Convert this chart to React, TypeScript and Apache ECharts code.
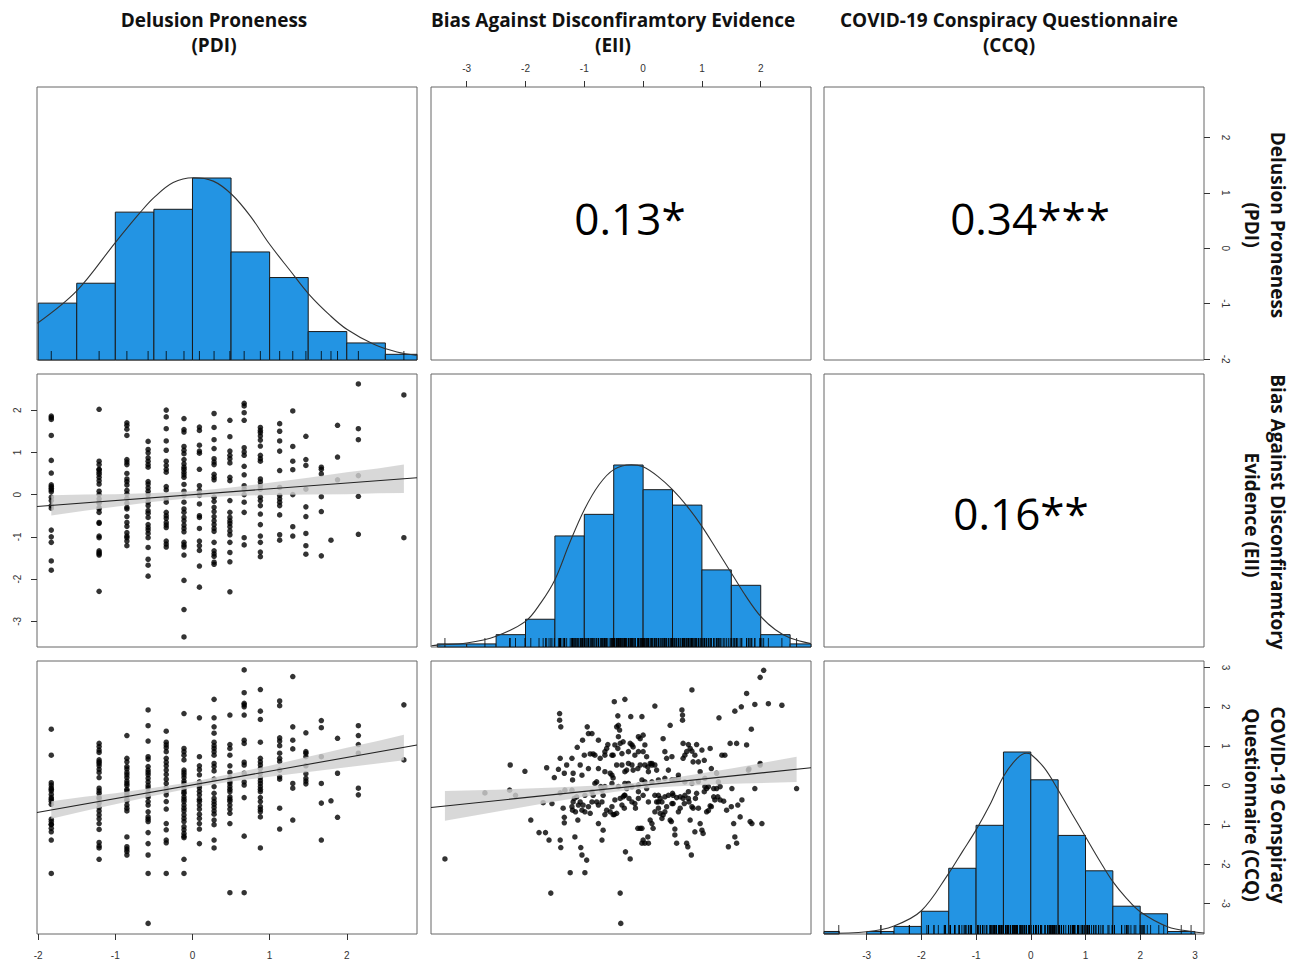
import React, { useEffect, useRef } from "react";
import * as echarts from "echarts";

// ---------- axis ranges (data range + 4%) ----------
const PDI_RANGE = [-2.015, 2.91];
const EII_RANGE = [-3.607, 2.855];
const CCQ_RANGE = [-3.78, 3.166];

// ---------- tick labels ----------
const PDI_TICKS = [-2, -1, 0, 1, 2];
const EII_TICKS = [-3, -2, -1, 0, 1, 2];
const CCQ_TICKS = [-3, -2, -1, 0, 1, 2, 3];

// ---------- titles ----------
const VAR_TITLES = [
  ["Delusion Proneness", "(PDI)"],
  ["Bias Against Disconfiramtory Evidence", "(EII)"],
  ["COVID-19 Conspiracy Questionnaire", "(CCQ)"],
];
const ROW_TITLES = [
  ["Delusion Proneness", "(PDI)"],
  ["Bias Against Disconfiramtory", "Evidence (EII)"],
  ["COVID-19 Conspiracy", "Questionnaire (CCQ)"],
];
const CORR_LABELS = ["0.13*", "0.34***", "0.16**"];

// ---------- histograms ----------
const pdiEdges = [-2, -1.5, -1, -0.5, 0, 0.5, 1, 1.5, 2, 2.5, 3];
const pdiCounts = [20, 27, 52, 53, 64, 38, 29, 10, 6, 2];
const eiiEdges = [-3.5, -3, -2.5, -2, -1.5, -1, -0.5, 0, 0.5, 1, 1.5, 2, 2.5, 3];
const eiiCounts = [1, 1, 4, 9, 36, 43, 59, 51, 46, 25, 20, 4, 1];
const ccqEdges = [-4, -3.5, -3, -2.5, -2, -1.5, -1, -0.5, 0, 0.5, 1, 1.5, 2, 2.5, 3];
const ccqCounts = [1, 0, 1, 3, 9, 26, 43, 72, 61, 39, 25, 11, 8, 1];

// normal curves (in count units)
const pdiCurveX = [-2.01, -1.5, -1.0, -0.68, -0.5, -0.25, 0.01, 0.27, 0.51, 0.75, 1.0, 1.27, 1.51, 1.79, 2.0, 2.35, 2.65, 2.91];
const pdiCurveY = [12.9, 24.3, 41.3, 51.8, 57.1, 62.4, 64.1, 62.9, 58.2, 50.6, 40.7, 31.3, 23.1, 15.5, 10.8, 5.5, 2.8, 1.6];
const eiiCurveX = [-3.6, -3.5, -3.0, -2.5, -2.0, -1.74, -1.5, -1.25, -1.0, -0.75, -0.5, -0.2, 0.0, 0.25, 0.5, 0.75, 1.0, 1.25, 1.5, 1.75, 2.0, 2.25, 2.5, 2.85];
const eiiCurveY = [0.4, 0.6, 1.3, 3.5, 8.3, 14.3, 21.8, 33.7, 44.5, 52.6, 57.5, 59.1, 58.4, 55.3, 51.0, 45.6, 39.1, 31.6, 24.0, 16.4, 9.9, 5.6, 2.9, 1.1];
const ccqCurveX = [-3.78, -3.0, -2.5, -2.0, -1.5, -1.25, -1.0, -0.75, -0.5, -0.25, -0.08, 0.0, 0.25, 0.5, 0.75, 1.0, 1.25, 1.5, 1.75, 2.0, 2.5, 3.0, 3.17];
const ccqCurveY = [0.3, 0.9, 3.2, 9.2, 24.0, 32.6, 41.2, 51.0, 62.3, 69.5, 71.5, 71.1, 65.6, 57.0, 47.7, 38.5, 29.3, 20.7, 14.1, 8.8, 2.9, 0.8, 0.4];

// ---------- PDI levels (discrete) and the scatter values at each ----------
const pdiLevels = [-1.83, -1.21, -0.85, -0.575, -0.34, -0.11, 0.09, 0.28, 0.485, 0.67, 0.88, 1.13, 1.30, 1.47, 1.67, 1.795, 1.88, 2.15, 2.74];

const eiiByPdi = [
  [1.86, 1.82, 1.78, 1.40, 0.81, 0.51, 0.23, 0.19, 0.15, 0.11, 0.07, -0.06, -0.14, -0.26, -0.32, -0.84, -1.0, -1.13, -1.57, -1.79],
  [2.02, 0.79, 0.71, 0.6, 0.59, 0.53, 0.48, 0.41, 0.33, 0.25, 0.08, 0.0, -0.10, -0.18, -0.2, -0.3, -0.34, -0.42, -0.66, -0.68, -0.98, -1.02, -1.33, -1.37, -1.40, -1.43, -2.29],
  [1.70, 1.64, 1.55, 1.40, 0.83, 0.77, 0.71, 0.5, 0.37, 0.31, 0.23, 0.1, 0.02, -0.09, -0.2, -0.30, -0.34, -0.52, -0.66, -0.75, -0.90, -0.98, -1.02, -1.10, -1.21],
  [1.26, 1.07, 0.99, 0.87, 0.79, 0.71, 0.65, 0.31, 0.25, 0.16, 0.08, 0, -0.10, -0.18, -0.26, -0.38, -0.44, -0.54, -0.71, -0.78, -0.84, -0.92, -1.02, -1.25, -1.53, -1.67, -1.93],
  [2.0, 1.84, 1.56, 1.27, 1.05, 0.79, 0.69, 0.60, 0.53, 0.19, 0.11, -0.10, -0.18, -0.42, -0.50, -0.56, -0.66, -0.72, -0.78, -1.10, -1.17, -1.24],
  [1.80, 1.54, 1.48, 1.14, 1.05, 0.97, 0.83, 0.73, 0.65, 0.60, 0.53, 0.47, 0.41, 0.24, 0.08, -0.02, -0.18, -0.34, -0.42, -0.54, -0.62, -0.72, -0.80, -0.88, -1.13, -1.19, -1.24, -1.43, -2.03, -2.72, -3.37],
  [1.60, 1.52, 1.17, 1.03, 0.98, 0.60, 0.21, 0.10, 0.0, -0.02, -0.22, -0.50, -0.54, -0.8, -1.10, -1.21, -1.32, -1.69, -2.19],
  [1.92, 1.59, 1.30, 1.09, 0.85, 0.77, 0.71, 0.48, 0.41, 0.35, -0.06, -0.16, -0.30, -0.40, -0.52, -0.62, -0.71, -0.80, -0.87, -1.13, -1.33, -1.40, -1.46, -1.60, -1.65],
  [1.76, 1.37, 1.03, 0.93, 0.85, 0.75, 0.41, 0.33, -0.14, -0.42, -0.54, -0.62, -0.68, -0.76, -0.86, -0.95, -1.13, -1.37, -1.59, -2.30],
  [2.16, 2.10, 1.94, 1.76, 1.11, 1.01, 0.93, 0.67, 0.47, 0.21, 0.13, 0.0, -0.18, -0.42, -1.02, -1.19],
  [1.59, 1.52, 1.47, 1.39, 1.29, 1.15, 0.93, 0.85, 0.79, 0.37, 0.3, 0.21, 0.13, -0.06, -0.14, -0.26, -0.46, -0.71, -0.98, -1.13, -1.36, -1.47],
  [1.68, 1.50, 1.27, 1.03, 0.57, 0.17, -0.02, -0.10, -0.18, -0.26, -0.48, -0.95, -1.08],
  [1.98, 1.14, 0.79, 0.59, 0.0, -0.76, -0.98],
  [1.38, 0.83, 0.69, 0.13, -0.29, -0.52, -0.92, -1.21, -1.41],
  [0.65, 0.60, 0.49, -0.05, -0.40, -1.45],
  [-1.08],
  [1.64, 0.89, 0.35],
  [2.62, 1.56, 1.30, 0.45, -0.04, -0.94],
  [2.36, -1.02],
];

const ccqByPdi = [
  [1.43, 0.77, 0.07, 0.01, -0.06, -0.1, -0.14, -0.23, -0.31, -0.35, -0.40, -0.48, -0.86, -0.92, -0.99, -1.0, -1.09, -1.18, -1.39, -2.24],
  [1.07, 0.99, 0.90, 0.84, 0.65, 0.6, 0.56, 0.50, 0.41, 0.33, 0.2, -0.07, -0.14, -0.20, -0.3, -0.33, -0.45, -0.56, -0.65, -0.75, -0.85, -0.97, -1.12, -1.45, -1.54, -1.59, -1.88],
  [1.27, 0.69, 0.6, 0.48, 0.42, 0.33, 0.27, 0.20, 0.11, 0.05, 0.0, -0.1, -0.14, -0.2, -0.26, -0.35, -0.39, -0.5, -0.58, -0.65, -1.31, -1.56, -1.62, -1.68, -1.77],
  [1.92, 1.52, 1.13, 0.73, 0.67, 0.48, 0.39, 0.33, 0.27, 0.18, 0.09, 0.0, -0.06, -0.17, -0.26, -0.3, -0.41, -0.50, -0.67, -0.80, -0.86, -0.92, -1.20, -1.48, -1.77, -2.24, -3.51],
  [1.38, 1.10, 1.03, 0.96, 0.86, 0.69, 0.59, 0.50, 0.39, 0.28, 0.16, 0.05, -0.06, -0.16, -0.24, -0.41, -0.6, -0.97, -1.13, -1.39, -1.46, -2.24],
  [1.83, 0.94, 0.86, 0.77, 0.65, 0.39, 0.33, 0.27, 0.20, 0.11, 0.05, -0.01, -0.09, -0.16, -0.2, -0.29, -0.35, -0.41, -0.50, -0.58, -0.65, -0.75, -0.84, -0.92, -1.05, -1.13, -1.22, -1.29, -1.33, -1.88, -2.24],
  [1.72, 0.73, 0.50, 0.4, 0.27, 0.09, 0.0, -0.06, -0.15, -0.24, -0.35, -0.4, -0.50, -0.60, -0.73, -0.84, -0.97, -1.11, -1.48],
  [2.19, 1.72, 1.49, 1.33, 1.10, 1.01, 0.94, 0.86, 0.77, 0.56, 0.48, 0.37, 0.16, -0.03, -0.2, -0.33, -0.41, -0.48, -0.56, -0.65, -0.73, -0.88, -1.0, -1.39, -1.59],
  [1.79, 1.04, 0.94, 0.77, 0.5, 0.33, 0.2, 0.1, 0.05, -0.03, -0.1, -0.16, -0.29, -0.35, -0.40, -0.5, -0.6, -0.71, -0.97, -2.73],
  [2.94, 2.36, 2.09, 2.05, 2.00, 1.79, 1.15, 1.07, 0.59, 0.52, 0.31, 0.09, 0.01, -0.31, -1.29, -2.73],
  [2.44, 1.89, 1.68, 1.10, 0.69, 0.6, 0.52, 0.43, 0.31, 0.2, 0.12, 0.05, -0.03, -0.1, -0.16, -0.31, -0.41, -0.54, -0.61, -0.67, -0.80, -1.59],
  [2.15, 2.03, 1.21, 1.13, 1.01, 0.82, 0.69, 0.61, 0.39, 0.22, 0.16, -0.58, -1.11],
  [2.77, 1.49, 1.15, 0.93, 0.05, -0.07, -0.88],
  [1.34, 0.86, 0.82, 0.73, 0.5, 0.3, 0.18, 0.11, 0.04],
  [1.65, 1.47, 0.73, 0.05, -0.45, -1.39],
  [-0.39],
  [1.20, 0.31, -0.81],
  [1.52, 1.27, 1.04, 0.82, -0.07, -0.24],
  [2.05, 0.65],
];

// ---------- EII (x) vs CCQ (y) scatter ----------
const eiiCcqPoints = [
  [-3.37, -1.87], [-2.26, 0.52], [-2.01, 0.36], [-1.91, -0.88], [-1.77, -1.20], [-1.66, -1.20], [-1.60, -1.39], [-1.57, -2.74],
  [-1.42, 1.83], [-1.42, 1.66], [-1.40, 1.49], [-1.41, -1.39], [-1.40, -1.58], [-1.51, 0.20], [-1.64, 0.45], [-1.44, 0.41],
  [-1.41, 0.69], [-1.34, 0.31], [-1.36, -0.58], [-1.34, -0.81], [-1.34, -0.95], [-1.24, -2.22], [-1.21, 0.69], [-1.19, 0.31],
  [-1.20, 0.14], [-1.30, 0.52], [-1.16, -1.31], [-1.12, 0.97], [-1.11, -0.88], [-1.07, 0.52], [-1.06, -1.58], [-1.04, -1.77],
  [-1.03, 1.15], [-1.00, 0.77], [-0.99, -2.22], [-0.96, -1.90], [-0.95, 1.49], [-0.93, 1.32], [-0.90, 0.80], [-0.87, 1.32],
  [-0.85, 0.80], [-0.82, 0.77], [-0.76, 1.15], [-0.73, 0.69], [-0.72, -0.03], [-0.79, -0.42], [-0.76, -0.97], [-0.70, -1.39],
  [-0.68, -1.14], [-0.65, 0.86], [-0.62, 0.94], [-0.60, 1.04], [-0.56, 0.31], [-0.53, 0.26], [-0.51, 0.19], [-0.49, 2.13],
  [-0.45, 1.49], [-0.43, 1.77], [-0.42, 1.53], [-0.40, 1.41], [-0.39, 1.07], [-0.48, 1.03], [-0.43, 0.94], [-0.36, 0.81],
  [-0.34, 1.11], [-0.31, 2.19], [-0.31, 0.35], [-0.28, 0.39], [-0.25, 0.56], [-0.22, 1.07], [-0.19, 1.03], [-0.21, 1.75],
  [-0.17, 0.98], [-0.14, 0.77], [-0.09, 0.43], [-0.08, 1.24], [-0.05, 1.19], [-0.02, 1.75], [0.00, 1.28], [0.00, 0.86],
  [0.03, 0.52], [0.06, 0.73], [0.08, 0.47], [-0.39, -0.33], [-0.48, -0.37], [-0.45, -0.71], [-0.49, -0.74], [-0.36, -0.50],
  [-0.34, -0.29], [-0.32, -0.58], [-0.30, -1.69], [-0.22, -1.87], [-0.39, -2.74], [-0.38, -3.51], [-0.32, -0.25], [-0.28, -0.08],
  [-0.25, 0.05], [-0.19, -0.03], [-0.14, -0.46], [-0.08, -0.16], [-0.02, 0.14], [0.03, 0.09], [0.06, -0.08], [0.09, 0.35],
  [0.12, 0.56], [0.15, 0.52], [0.20, 2.02], [0.20, 0.52], [0.23, 0.39], [0.26, -0.25], [0.29, -0.33], [0.32, -0.42],
  [0.34, 1.19], [0.37, 0.86], [0.40, 0.69], [0.43, 0.39], [0.46, 1.53], [0.49, 0.73], [0.50, -0.20], [0.51, -0.25],
  [0.54, 0.14], [0.57, -0.31], [0.60, 0.26], [0.66, 1.92], [0.67, 1.79], [0.67, 1.66], [0.68, 1.07], [0.68, 0.69],
  [0.71, 0.77], [0.74, 0.86], [0.77, 1.04], [0.80, 0.94], [0.83, 2.43], [0.83, 0.87], [0.85, 0.60], [0.88, 0.77],
  [0.91, 1.04], [0.94, 0.60], [0.97, 0.35], [1.00, 0.90], [1.04, 0.64], [1.05, -0.03], [1.08, -0.08], [1.11, -0.64],
  [1.14, 0.94], [1.16, 0.43], [1.16, -0.54], [1.20, -0.29], [1.25, -0.08], [1.27, -0.29], [1.29, 1.72], [1.31, -0.37],
  [1.34, 0.77], [1.37, -0.40], [1.39, 0.77], [1.42, -0.63], [1.45, -1.56], [1.48, 1.07], [1.50, -0.54], [1.51, -0.08],
  [1.54, -0.97], [1.56, 1.89], [1.56, -1.31], [1.59, 1.07], [1.59, -1.47], [1.61, -0.50], [1.65, -0.80], [1.67, 2.00],
  [1.68, -0.37], [1.76, 2.34], [1.76, 1.03], [1.79, 0.39], [1.82, -0.92], [1.84, 1.43], [1.85, -0.97], [1.90, 2.06],
  [1.90, -0.08], [1.99, 2.75], [1.99, 0.52], [2.02, -0.97], [2.05, 2.93], [2.13, 2.08], [2.36, 2.04], [2.61, -0.08],
  [-1.21, -0.54], [-1.20, -0.63], [-1.19, -0.42], [-1.17, -0.33], [-1.15, -0.67], [-1.10, -0.50], [-1.07, -0.42], [-1.04, -0.63],
  [-1.02, -0.50], [-0.99, -0.67], [-0.93, -0.54], [-0.90, -0.71], [-0.87, -0.42], [-0.85, -0.25], [-0.82, 0.05], [-0.79, 0.09],
  [-0.76, -0.50], [-0.70, -0.42], [-0.68, -0.25], [-0.65, -0.74], [-0.62, -0.63], [-0.56, -0.67], [-0.53, -0.54], [-0.51, -0.74],
  [-0.19, -0.42], [-0.13, -0.58], [-0.09, -1.09], [-0.05, -1.09], [-0.02, -1.09], [0.00, -1.39], [-0.02, -1.47], [0.03, -1.47],
  [0.08, -1.31], [0.09, -1.47], [0.12, -0.88], [0.15, -0.97], [0.17, -1.09], [0.20, -0.67], [0.23, -0.42], [0.26, -0.58],
  [0.29, -0.71], [0.32, -0.84], [0.34, -0.75], [0.37, -0.67], [0.40, -0.54], [0.46, -0.88], [0.48, -0.92], [0.51, -0.46],
  [0.54, -1.26], [0.54, -1.11], [0.57, -1.47], [0.60, -0.67], [0.63, -0.58], [0.68, -0.33], [0.70, -0.46], [0.71, -0.25],
  [0.74, -1.47], [0.76, -1.56], [0.77, -0.33], [0.78, -0.42], [0.80, -0.88], [0.82, -1.77], [0.83, -0.54], [0.85, -0.58],
  [0.88, -1.18], [0.91, -0.20], [0.94, -0.58], [0.97, -0.97], [1.00, -1.14], [1.02, -1.22], [1.04, -0.16], [1.08, -0.67],
  [1.11, -0.03], [1.14, -0.52], [1.20, -0.08], [1.22, -0.37], [1.28, 0.09], [1.31, -0.03],
  [-2.69, -0.19], [-2.27, -0.12], [-2.17, -0.25], [-1.70, -0.44], [-1.55, -0.46], [-1.41, -0.19], [-1.33, -0.12], [-1.21, -0.12],
  [-1.13, -0.29], [-0.99, -0.25], [-0.87, -0.16], [-0.70, -0.12], [-0.65, -0.03], [-0.53, 0.05], [-0.42, -0.03], [-0.31, 0.05],
  [-0.08, 0.01], [0.15, 0.09], [0.26, 0.14], [0.37, 0.18], [0.49, 0.14], [0.60, 0.18], [0.71, 0.09], [0.83, 0.05],
  [0.94, 0.10], [1.05, 0.18], [1.25, 0.31], [1.80, 0.42], [1.99, 0.56],
  [-0.65, 0.77], [-0.53, 0.77], [-0.45, 0.52], [-0.36, 0.52], [-0.19, 0.52], [-0.17, 0.39], [-0.05, 0.52], [0.03, 1.03],
  [0.15, 0.56], [-0.31, -0.25], [-0.24, -0.33], [-0.08, -0.33], [0.00, -0.25], [0.09, -0.42], [0.20, -0.25], [0.26, -0.42],
  [0.37, -0.29], [0.43, -0.25], [0.49, -0.46], [0.63, -0.29], [0.77, -0.16], [0.89, -0.33], [-0.93, 0.43], [-1.04, 0.26],
  [-0.76, 0.43], [-0.65, 0.35], [-0.51, 0.77], [-0.25, 0.86], [-0.42, 1.24], [-0.08, 0.86],
];

// ---------- regression lines (endpoints across the panel) ----------
const regPdiEii = [[-2.015, -0.28], [2.91, 0.40]];
const regPdiCcq = [[-2.015, -0.69], [2.91, 1.03]];
const regEiiCcq = [[-3.607, -0.56], [2.855, 0.45]];

// ---------- confidence bands ----------
const bandPdiEiiX = [-1.83, -1.4, -1, -0.5, 0, 0.5, 1, 1.5, 2, 2.4, 2.74];
const bandPdiEiiLo = [-0.495, -0.38, -0.29, -0.17, -0.08, -0.03, -0.01, 0.0, 0.01, 0.03, 0.04];
const bandPdiEiiHi = [-0.015, 0.0, 0.01, 0.04, 0.08, 0.17, 0.28, 0.40, 0.53, 0.62, 0.71];
const bandPdiCcqX = [-1.83, -1.4, -1, -0.5, 0, 0.5, 1, 1.5, 2, 2.4, 2.74];
const bandPdiCcqLo = [-0.85, -0.65, -0.48, -0.26, -0.06, 0.10, 0.22, 0.34, 0.46, 0.56, 0.64];
const bandPdiCcqHi = [-0.40, -0.29, -0.20, -0.06, 0.09, 0.30, 0.50, 0.73, 0.96, 1.13, 1.29];
const bandEiiCcqX = [-3.37, -2.5, -1.5, -0.5, 0, 0.5, 1.5, 2.61];
const bandEiiCcqLo = [-0.90, -0.67, -0.41, -0.17, -0.08, -0.03, 0.04, 0.09];
const bandEiiCcqHi = [-0.14, -0.11, -0.05, 0.02, 0.09, 0.19, 0.43, 0.73];

// ---------- styling ----------
const BLUE = "#2394E3";
const FRAME = "#666";
const TICK_FONT = "Liberation Sans";
const TITLE_FONT = '"Open Sans", "Noto Sans", sans-serif';

const COL_LEFT = [37, 431, 824];
const ROW_TOP = [87, 374, 661];
const PANEL_W = 380;
const PANEL_H = 273;

function hiddenAxis(gridIndex: number, range: number[]) {
  return {
    type: "value",
    gridIndex,
    min: range[0],
    max: range[1],
    axisLine: { show: false, onZero: false },
    axisTick: { show: false },
    axisLabel: { show: false },
    splitLine: { show: false },
  };
}

function tickAxis(gridIndex: number, range: number[], ticks: number[], position: string, rotate: number, margin: number) {
  return {
    type: "value",
    gridIndex,
    min: range[0],
    max: range[1],
    position,
    axisLine: { show: false, onZero: false },
    splitLine: { show: false },
    axisTick: {
      show: true,
      customValues: ticks,
      length: 6,
      lineStyle: { color: "#333", width: 1 },
    },
    axisLabel: {
      show: true,
      customValues: ticks,
      formatter: (v: number) => String(v),
      rotate,
      margin,
      fontSize: 10,
      color: "#333",
      fontFamily: TICK_FONT,
    },
  };
}

function histSeries(g: number, edges: number[], counts: number[]) {
  const data = counts.map((c, i) => [edges[i], edges[i + 1], c]);
  return {
    type: "custom",
    xAxisIndex: g,
    yAxisIndex: g,
    z: 2,
    data,
    encode: { x: [0, 1], y: 2 },
    renderItem: (params: any, api: any) => {
      const h = api.value(2);
      if (!h) return null;
      const p0 = api.coord([api.value(0), h]);
      const p1 = api.coord([api.value(1), 0]);
      const shape = echarts.graphic.clipRectByRect(
        { x: p0[0], y: p0[1], width: p1[0] - p0[0], height: p1[1] - p0[1] },
        params.coordSys
      );
      if (!shape) return null;
      return {
        type: "rect",
        shape,
        style: { fill: BLUE, stroke: "#1a1a1a", lineWidth: 1 },
      };
    },
  };
}

function rugSeries(g: number, values: number[]) {
  return {
    type: "custom",
    xAxisIndex: g,
    yAxisIndex: g,
    z: 3,
    data: values.map((v) => [v, 0]),
    encode: { x: 0, y: 1 },
    renderItem: (params: any, api: any) => {
      const p = api.coord([api.value(0), 0]);
      return {
        type: "line",
        shape: { x1: p[0], y1: p[1], x2: p[0], y2: p[1] - 9 },
        style: { stroke: "rgba(0,0,0,0.8)", lineWidth: 1 },
      };
    },
  };
}

function curveSeries(g: number, xs: number[], ys: number[]) {
  return {
    type: "line",
    xAxisIndex: g,
    yAxisIndex: g,
    z: 4,
    smooth: 0.35,
    showSymbol: false,
    symbol: "none",
    silent: true,
    data: xs.map((x, i) => [x, ys[i]]),
    lineStyle: { color: "#333", width: 1.1 },
  };
}

function bandSeries(g: number, xs: number[], lo: number[], hi: number[]) {
  return {
    type: "custom",
    xAxisIndex: g,
    yAxisIndex: g,
    z: 3,
    data: [[xs[0], lo[0]]],
    encode: { x: 0, y: 1 },
    renderItem: (params: any, api: any) => {
      const pts: number[][] = [];
      for (let i = 0; i < xs.length; i++) pts.push(api.coord([xs[i], hi[i]]));
      for (let i = xs.length - 1; i >= 0; i--) pts.push(api.coord([xs[i], lo[i]]));
      return {
        type: "polygon",
        shape: { points: pts },
        style: { fill: "rgba(208,208,208,0.82)" },
      };
    },
  };
}

function regSeries(g: number, pts: number[][]) {
  return {
    type: "line",
    xAxisIndex: g,
    yAxisIndex: g,
    z: 4,
    showSymbol: false,
    symbol: "none",
    silent: true,
    data: pts,
    lineStyle: { color: "#222", width: 1.1 },
  };
}

function scatterSeries(g: number, pts: number[][]) {
  return {
    type: "scatter",
    xAxisIndex: g,
    yAxisIndex: g,
    z: 2,
    symbolSize: 5.5,
    silent: true,
    data: pts,
    itemStyle: { color: "#000" },
  };
}

function buildOption() {
  const ranges = [PDI_RANGE, EII_RANGE, CCQ_RANGE];
  const histMax = [pdiCounts, eiiCounts, ccqCounts].map((c) => Math.max(...c) * 1.5);
  const grids: any[] = [];
  const xAxes: any[] = [];
  const yAxes: any[] = [];
  for (let r = 0; r < 3; r++) {
    for (let c = 0; c < 3; c++) {
      const g = r * 3 + c;
      grids.push({
        left: COL_LEFT[c],
        top: ROW_TOP[r],
        width: PANEL_W,
        height: PANEL_H,
        show: true,
        borderColor: FRAME,
        borderWidth: 1,
        backgroundColor: "transparent",
        containLabel: false,
        outerBoundsMode: "none",
      });
      xAxes.push(hiddenAxis(g, ranges[c]));
      yAxes.push(hiddenAxis(g, r === c ? [0, histMax[c]] : ranges[r]));
    }
  }
  // visible axes
  yAxes[3] = tickAxis(3, EII_RANGE, EII_TICKS, "left", 90, 15);
  xAxes[6] = tickAxis(6, PDI_RANGE, PDI_TICKS, "bottom", 0, 16);
  xAxes[1] = tickAxis(1, EII_RANGE, EII_TICKS, "top", 0, 14);
  yAxes[2] = tickAxis(2, PDI_RANGE, PDI_TICKS, "right", -90, 16);
  xAxes[8] = tickAxis(8, CCQ_RANGE, CCQ_TICKS, "bottom", 0, 16);
  yAxes.push(tickAxis(8, CCQ_RANGE, CCQ_TICKS, "right", -90, 16));

  const pdiEiiPts: number[][] = [];
  const pdiCcqPts: number[][] = [];
  pdiLevels.forEach((lv, i) => {
    eiiByPdi[i].forEach((v) => pdiEiiPts.push([lv, v]));
    ccqByPdi[i].forEach((v) => pdiCcqPts.push([lv, v]));
  });

  const series: any[] = [
    histSeries(0, pdiEdges, pdiCounts),
    rugSeries(0, pdiLevels),
    curveSeries(0, pdiCurveX, pdiCurveY),
    histSeries(4, eiiEdges, eiiCounts),
    rugSeries(4, eiiCcqPoints.map((p) => p[0])),
    curveSeries(4, eiiCurveX, eiiCurveY),
    histSeries(8, ccqEdges, ccqCounts),
    rugSeries(8, eiiCcqPoints.map((p) => p[1])),
    curveSeries(8, ccqCurveX, ccqCurveY),
    scatterSeries(3, pdiEiiPts),
    bandSeries(3, bandPdiEiiX, bandPdiEiiLo, bandPdiEiiHi),
    regSeries(3, regPdiEii),
    scatterSeries(6, pdiCcqPts),
    bandSeries(6, bandPdiCcqX, bandPdiCcqLo, bandPdiCcqHi),
    regSeries(6, regPdiCcq),
    scatterSeries(7, eiiCcqPoints),
    bandSeries(7, bandEiiCcqX, bandEiiCcqLo, bandEiiCcqHi),
    regSeries(7, regEiiCcq),
  ];

  const titleStyle = (text: string) => ({
    text,
    fontSize: 19,
    fontWeight: "bold",
    fontFamily: TITLE_FONT,
    fill: "#111",
    align: "center",
    verticalAlign: "middle",
  });
  const topX = [214, 613, 1009];
  const sideY = [[225, 225], [512, 515], [805, 805]];
  const graphics: any[] = [];
  VAR_TITLES.forEach((t, i) => {
    graphics.push({ type: "text", x: topX[i], y: 20, style: titleStyle(t[0]) });
    graphics.push({ type: "text", x: topX[i], y: 45, style: titleStyle(t[1]) });
  });
  ROW_TITLES.forEach((t, i) => {
    graphics.push({ type: "text", x: 1278, y: sideY[i][0], rotation: -Math.PI / 2, style: titleStyle(t[0]) });
    graphics.push({ type: "text", x: 1252, y: sideY[i][1], rotation: -Math.PI / 2, style: titleStyle(t[1]) });
  });
  const corrPos = [[630, 218], [1030, 218], [1021, 513]];
  CORR_LABELS.forEach((t, i) => {
    graphics.push({
      type: "text",
      x: corrPos[i][0],
      y: corrPos[i][1],
      style: {
        text: t,
        fontSize: 44,
        fontFamily: TITLE_FONT,
        fill: "#000",
        align: "center",
        verticalAlign: "middle",
      },
    });
  });

  return {
    animation: false,
    backgroundColor: "#fff",
    grid: grids,
    xAxis: xAxes,
    yAxis: yAxes,
    series,
    graphic: { elements: graphics },
  };
}

export default function App() {
  const ref = useRef<HTMLDivElement>(null);
  useEffect(() => {
    if (!ref.current) return;
    const chart = echarts.init(ref.current, undefined, { renderer: "svg" });
    chart.setOption(buildOption() as any);
    return () => chart.dispose();
  }, []);
  return (
    <div
      ref={ref}
      style={{ position: "absolute", left: 0, top: 0, width: 1301, height: 961, background: "#fff" }}
    />
  );
}
